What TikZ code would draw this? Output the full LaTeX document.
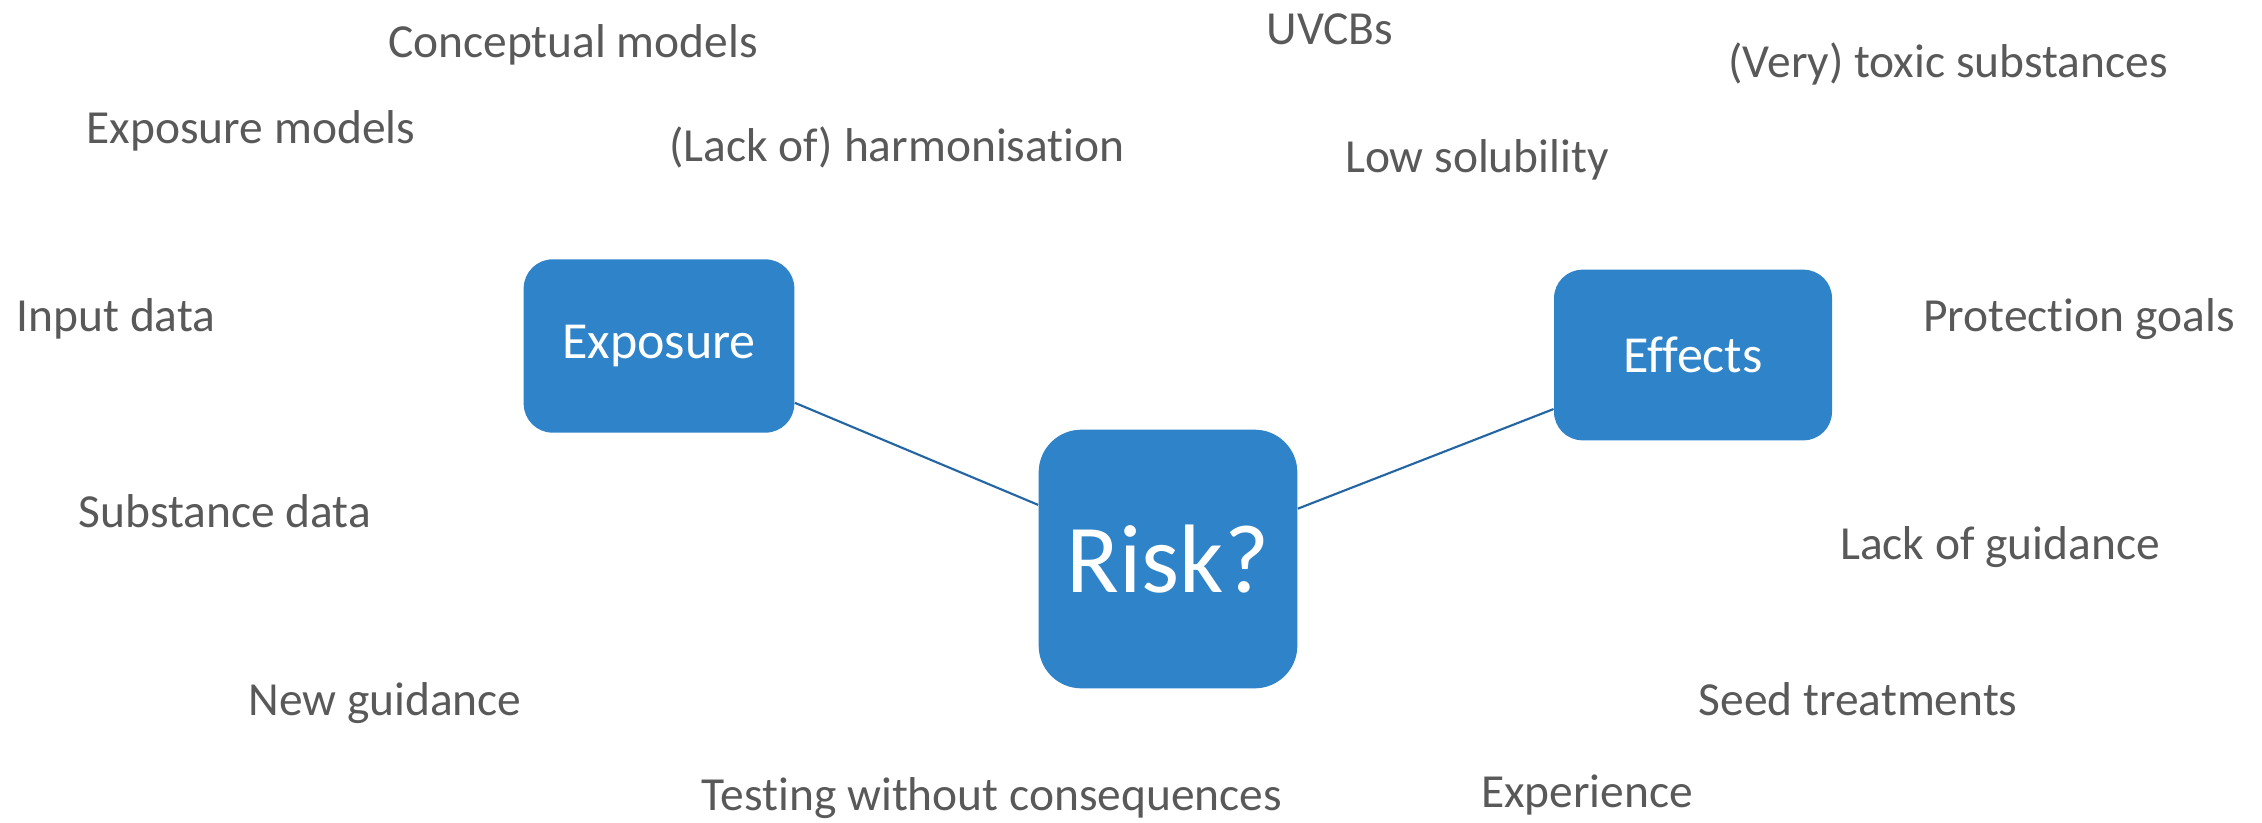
\documentclass[tikz,border=0pt]{standalone}
\usepackage{fontspec}
\setmainfont{Carlito}[Ligatures=NoCommon]
\definecolor{boxblue}{RGB}{46,131,201}
\definecolor{lineblue}{RGB}{36,102,163}
\definecolor{textgrey}{RGB}{89,89,89}

\tikzset{every picture/.style={line width=0.75pt}}
\tikzset{
  topicbox/.style={fill=boxblue, draw=none, text=white, inner sep=0pt, align=center},
  issue/.style={text=textgrey, inner sep=0.75pt, anchor=base, font=\fontsize{35.6}{42}\selectfont},
  link/.style={draw=lineblue, line width=1.6pt}
}

\begin{document}
\begin{tikzpicture}[x=0.75pt,y=0.75pt,yscale=-1,xscale=1]
\useasboundingbox (0,0) rectangle (2262,822);

%Rounded Rect [id:exposure]
\node (exposure) at (659,346) [topicbox, rounded corners=21.75pt, minimum width=203pt, minimum height=130pt, font=\fontsize{39}{45}\selectfont] {Exposure};
%Rounded Rect [id:risk]
\node (risk) at (1168,559) [topicbox, rounded corners=32pt, minimum width=194pt, minimum height=194pt, font=\fontsize{73}{80}\selectfont] {Risk?};
%Rounded Rect [id:effects]
\node (effects) at (1693,355) [topicbox, rounded corners=21.4pt, minimum width=208.5pt, minimum height=128pt, font=\fontsize{39}{45}\selectfont] {Effects};

%Straight Lines
\draw [link] (exposure) -- (risk) ;
%Straight Lines
\draw [link] (risk) -- (effects) ;

% Text Node
\node (conceptual) at (573,57) [issue] {Conceptual models};
% Text Node
\node (uvcbs) at (1330,44) [issue] {UVCBs};
% Text Node
\node (toxic) at (1948,77) [issue] {(Very) toxic substances};
% Text Node
\node (expmodels) at (251,143) [issue] {Exposure models};
% Text Node
\node (harmon) at (897,161) [issue] {(Lack of) harmonisation};
% Text Node
\node (solub) at (1477,172) [issue] {Low solubility};
% Text Node
\node (input) at (116,331) [issue] {Input data};
% Text Node
\node (protect) at (2079,331) [issue] {Protection goals};
% Text Node
\node (substance) at (225,527) [issue] {Substance data};
% Text Node
\node (lackguid) at (2000,559) [issue] {Lack of guidance};
% Text Node
\node (newguid) at (385,715) [issue] {New guidance};
% Text Node
\node (seed) at (1858,715) [issue] {Seed treatments};
% Text Node
\node (testing) at (992,810) [issue] {Testing without consequences};
% Text Node
\node (experience) at (1587,807) [issue] {Experience};

\end{tikzpicture}
\end{document}
